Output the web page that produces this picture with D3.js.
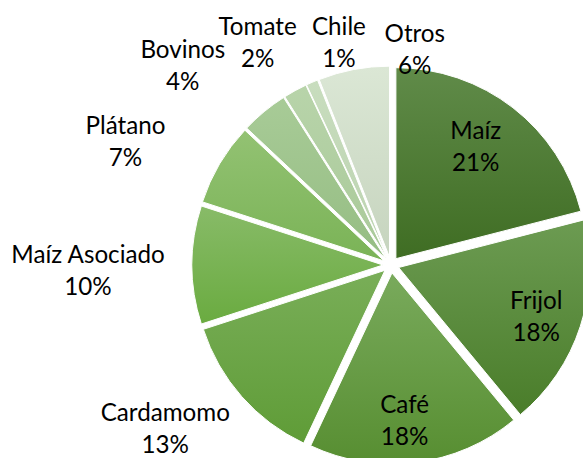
<!DOCTYPE html>
<html><head><meta charset="utf-8">
<script src="https://cdn.jsdelivr.net/npm/d3@7"></script>
<style>
body{margin:0;background:#fff}
svg{display:block}
text{font-family:Lato, Carlito, Calibri, "Open Sans", sans-serif;fill:#000}
</style>
</head><body>
<svg id="c" width="583" height="458"></svg>
<script>
// ---- data ----
const categories = ["Maíz","Frijol","Café","Cardamomo","Maíz Asociado","Plátano","Bovinos","Tomate","Chile","Otros"];
const values = [21,18,18,13,10,7,4,2,1,6];
const percentLabels = ["21%","18%","18%","13%","10%","7%","4%","2%","1%","6%"];

// ---- styles ----
const colorsTop    = ["#608b49","#6c9b52","#79aa5c","#79ae58","#88bb68","#93c273","#a8cb97","#b8d4aa","#c8ddbe","#dbe7d5"];
const colorsBottom = ["#3f6d23","#4a7d2a","#578e31","#5f9c37","#6aab40","#7ab356","#95bd83","#a9c999","#bcd3b0","#c6d4be"];
// label layout: angle (deg, clockwise from 12 o'clock) and distance from pie centre
const labelAngle = [35.5,109.4,175,234,269,295,313.7,329,346.8,6.3];
const labelDist  = [146,154,156,279,303,293,288,259,228,217];

const W = 583, H = 458;
const cx = 391, cy = 265, R = 191, explode = 8;
const fontSize = 24.2, lineGap = 32;

const svg = d3.select("#c");
const defs = svg.append("defs");
categories.forEach((c,i)=>{
  const g = defs.append("linearGradient").attr("id","g"+i)
    .attr("x1",0).attr("y1",0).attr("x2",0).attr("y2",1);
  g.append("stop").attr("offset","0%").attr("stop-color",colorsTop[i]);
  g.append("stop").attr("offset","100%").attr("stop-color",colorsBottom[i]);
});

const pie = d3.pie().sort(null).value(d=>d).startAngle(0).endAngle(2*Math.PI);
const arcs = pie(values);
const arc = d3.arc().innerRadius(0).outerRadius(R);

const gPie = svg.append("g").attr("transform",`translate(${cx},${cy})`);
gPie.selectAll("path").data(arcs).join("path")
  .attr("d",arc)
  .attr("transform",d=>{
    const m=(d.startAngle+d.endAngle)/2;
    return `translate(${explode*Math.sin(m)},${-explode*Math.cos(m)})`;
  })
  .attr("fill",(d,i)=>`url(#g${i})`)
  .attr("stroke","#fff").attr("stroke-width",1);

const gLab = svg.append("g");
categories.forEach((c,i)=>{
  const a = labelAngle[i]*Math.PI/180;
  const x = cx + labelDist[i]*Math.sin(a);
  const y = cy - labelDist[i]*Math.cos(a);
  const t = gLab.append("text").attr("text-anchor","middle").attr("font-size",fontSize);
  t.append("tspan").attr("x",x).attr("y",y-lineGap/2).attr("dy","0.35em").text(c);
  t.append("tspan").attr("x",x).attr("y",y+lineGap/2).attr("dy","0.35em").text(percentLabels[i]);
});
</script>
</body></html>
